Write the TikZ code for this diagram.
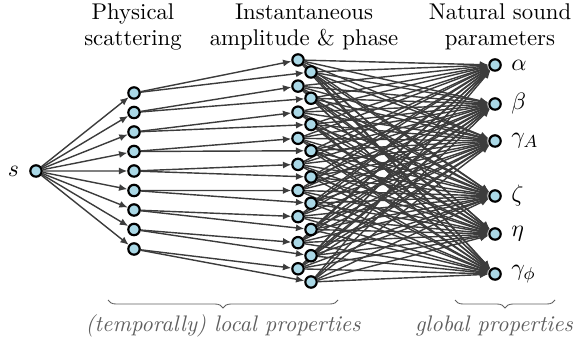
\documentclass[tikz,border=0pt]{standalone}
\usepackage{amsmath}
\usetikzlibrary{positioning,arrows.meta,decorations.pathreplacing,backgrounds}

\definecolor{unitfill}{RGB}{170,216,230}
\definecolor{edgegray}{RGB}{60,60,60}
\definecolor{notegray}{RGB}{95,95,95}

\begin{document}
\begin{tikzpicture}[
    x=0.1623cm, y=0.1623cm,
    unit/.style={
        circle,
        draw=black,
        line width=1pt,
        fill=unitfill,
        inner sep=0pt,
        minimum size=1.85mm
    },
    arrow/.style={-{Latex[length=1.35mm,width=1.15mm]}, edgegray, line width=0.65pt},
    header/.style={align=center, font=\fontsize{10.5}{12.2}\selectfont},
    symbol/.style={font=\fontsize{11}{13}\selectfont},
    brace/.style={decorate, decoration={brace, mirror, amplitude=3.7pt}, notegray, line width=0.4pt},
    bracelabel/.style={font=\fontsize{10.4}{12}\selectfont\itshape, text=notegray}
]
\useasboundingbox (0,0) rectangle (58,-34.3);

% source
\node[unit] (s) at (3.6,-17.1) {};
\node[symbol, left=0.4mm of s] (slabel) {$s$};

% scattering layer, then amplitude (a) and phase (b) units
\foreach \i in {0,...,8} {
    \node[unit] (p\i) at (13.4,{-9.3-1.95*\i}) {};
    \node[unit] (a\i) at (29.8,{-6.0-2.61*\i}) {};
    \node[unit] (b\i) at (31.1,{-7.2-2.625*\i}) {};
}

% natural sound parameters
\foreach \name/\y/\lbl in {alpha/-6.5/\alpha, beta/-10.4/\beta, gA/-14.1/\gamma_A,
                           zeta/-19.6/\zeta, eta/-23.4/\eta, gP/-27.4/\gamma_\phi} {
    \node[unit] (\name) at (49.5,\y) {};
    \node[symbol, right=0.3mm of \name] (\name-lbl) {$\lbl$};
}

\begin{pgfonlayer}{background}
\foreach \i in {0,...,8} {
    \draw[arrow] (s) -- (p\i);
    \draw[arrow] (p\i) -- (a\i);
    \draw[arrow] (p\i) -- (b\i);
    \foreach \name in {alpha,beta,gA,zeta,eta,gP} {
        \draw[arrow] (a\i) -- (\name);
        \draw[arrow] (b\i) -- (\name);
    }
}
\end{pgfonlayer}

% column headers
\node[header] (hscat) at (13.3,-2.7) {Physical\\scattering};
\node[header] (hamp) at (30.4,-2.7) {Instantaneous\\amplitude \& phase};
\node[header] (hpar) at (50.0,-2.7) {Natural sound\\parameters};

% braces
\coordinate (lb1) at (10.8,-30.0);
\coordinate (lb2) at (33.8,-30.0);
\coordinate (gb1) at (45.5,-30.0);
\coordinate (gb2) at (55.5,-30.0);
\draw[brace] (lb1) -- (lb2);
\draw[brace] (gb1) -- (gb2);

\node[bracelabel] (local) at (22.3,-32.6) {(temporally) local properties};
\node[bracelabel] (global) at (49.4,-32.6) {global properties};

\end{tikzpicture}
\end{document}
